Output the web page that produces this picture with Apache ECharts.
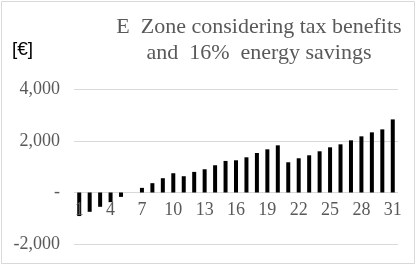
<!DOCTYPE html>
<html><head><meta charset="utf-8">
<script src="https://cdn.jsdelivr.net/npm/echarts@6/dist/echarts.min.js"></script>
<style>html,body{margin:0;padding:0;background:#fff}#c{width:417px;height:265px}</style>
</head><body><div id="c"></div>
<script>
const categories = ["1","2","3","4","5","6","7","8","9","10","11","12","13","14","15","16","17","18","19","20","21","22","23","24","25","26","27","28","29","30","31"];
const values = [-915,-750,-555,-375,-170,0,180,362,555,748,632,800,903,1058,1226,1251,1367,1535,1677,1832,1174,1329,1445,1600,1755,1871,2026,2181,2336,2452,2839];
const titleLines = ["E  Zone considering tax benefits","and  16%  energy savings"];
const unitLabel = "[€]";

const chart = echarts.init(document.getElementById('c'));
chart.setOption({
  animation:false,
  graphic:[{type:'rect',shape:{x:1.5,y:1.5,width:413,height:262},style:{fill:null,stroke:'#d9d9d9',lineWidth:1},silent:true}],
  title:[{
    text: titleLines.join('\n'),
    left: 254, top: 9, textAlign:'center',
    textStyle:{fontFamily:'Liberation Serif',fontSize:22,fontWeight:'normal',color:'#595959',lineHeight:26}
  },{
    text: unitLabel, left: 7, top: 35,
    textStyle:{fontFamily:'Liberation Sans',fontSize:19,fontWeight:'normal',color:'#000'}
  }],
  grid:{left:74,right:19,top:89.5,bottom:21,containLabel:false,outerBoundsMode:'none'},
  xAxis:{type:'category',data:categories,position:'bottom',offset:-51.5,z:5,
    axisLine:{show:false,onZero:false},axisTick:{show:false},
    axisLabel:{interval:2,margin:9,fontFamily:'Liberation Serif',fontSize:18,color:'#595959'}},
  yAxis:{type:'value',min:-2000,max:4000,interval:2000,
    axisLine:{show:false},axisTick:{show:false},
    splitLine:{lineStyle:{color:'#d9d9d9',width:1}},
    axisLabel:{margin:14,fontFamily:'Liberation Serif',fontSize:18,color:'#595959',
      formatter:v=> v===0?'-':v.toLocaleString('en-US')}},
  series:[{type:'bar',data:values,barWidth:4,z:2,itemStyle:{color:'#000'}}]
});
</script></body></html>
